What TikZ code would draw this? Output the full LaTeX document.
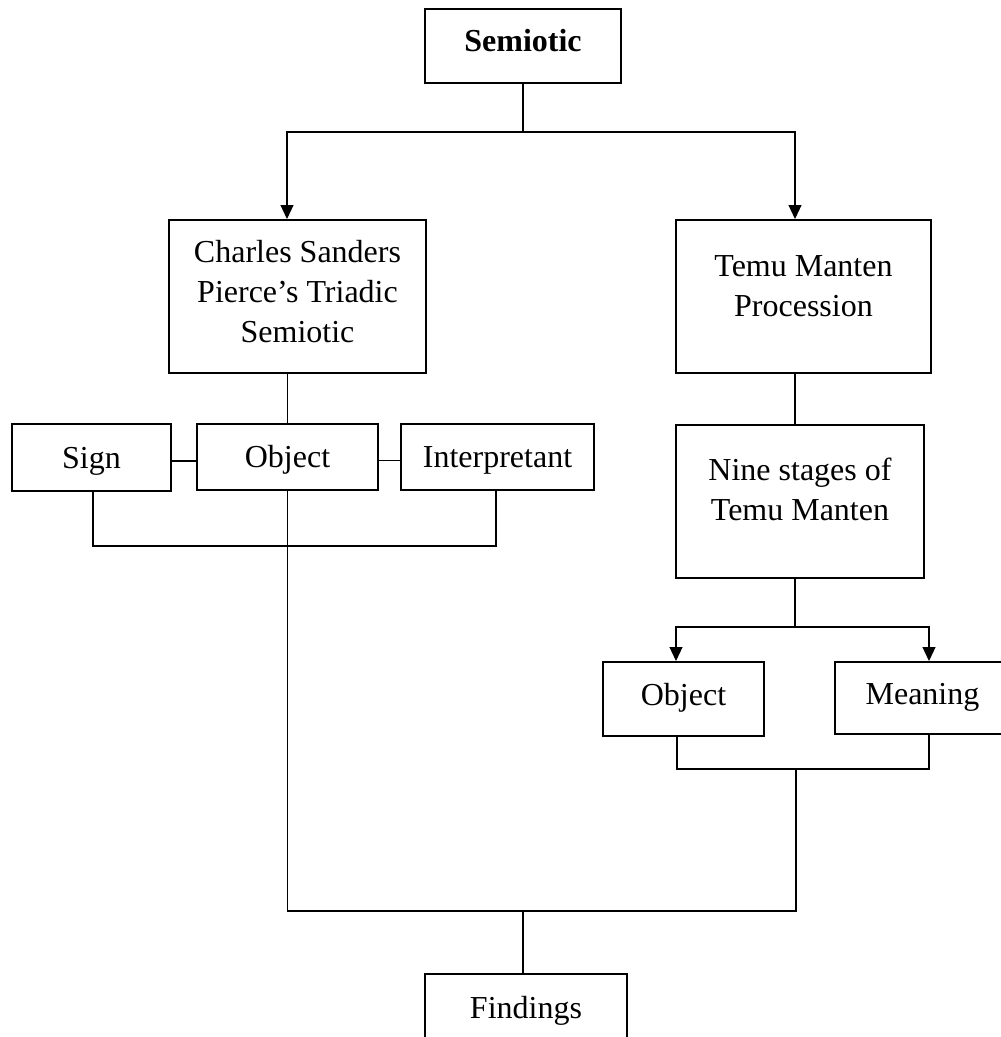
\documentclass[tikz,border=0pt]{standalone}
\usepackage{fontspec}
\setmainfont{Liberation Serif}
\usetikzlibrary{arrows.meta,calc}
\newcommand{\lowpad}[1]{\rule[-#1]{0pt}{#1}}
\newcommand{\uppad}[1]{\rule{0pt}{#1}}
\begin{document}
\begin{tikzpicture}[x=1pt,y=-1pt,
  box/.style={draw,line width=2pt,inner sep=0pt,align=center,font=\fontsize{32}{40}\selectfont},
  conn/.style={line width=1.1pt},
  arr/.style={conn,-{Triangle[width=13pt,length=14pt]}}]
\useasboundingbox (0,0) rectangle (1001,1037);
% nodes
\node[box,minimum width=196pt,minimum height=74pt] (sem) at (523,46) {\textbf{Semiotic}\lowpad{12pt}};
\node[box,minimum width=257pt,minimum height=153pt] (cs) at (297.5,296.5) {Charles Sanders\\Pierce’s Triadic\\Semiotic\lowpad{10pt}};
\node[box,minimum width=255pt,minimum height=153pt] (tm) at (803.5,296.5) {Temu Manten\\Procession\lowpad{20pt}};
\node[box,minimum width=248pt,minimum height=153pt] (ns) at (800,501.5) {Nine stages of\\Temu Manten\lowpad{24pt}};
\node[box,minimum width=159pt,minimum height=67pt] (sign) at (91.5,457.5) {\uppad{28pt}Sign};
\node[box,minimum width=181pt,minimum height=66pt] (obj) at (287.5,457) {\uppad{28pt}Object};
\node[box,minimum width=193pt,minimum height=66pt] (interp) at (497.5,457) {\uppad{28pt}Interpretant};
\node[box,minimum width=161pt,minimum height=74pt] (obj2) at (683.5,699) {Object\lowpad{10pt}};
\node[box,minimum width=175pt,minimum height=72pt] (mean) at (922.5,698) {Meaning\lowpad{9pt}};
\node[box,minimum width=202pt,minimum height=66pt] (find) at (526,1007) {\uppad{30pt}Findings};
% junctions
\coordinate (j1) at (523,132);
\coordinate (j2) at (287.5,546);
\coordinate (j3) at (795,627);
\coordinate (j5) at (796,769);
\coordinate (j4) at (523,911);
% connectors
\draw[conn] (sem.south) -- (j1);
\draw[arr] (j1) -| ([xshift=-10.5pt]cs.north);
\draw[arr] (j1) -| ([xshift=-8.5pt]tm.north);
\draw[conn] (obj.north |- cs.south) -- (obj.north);
\draw[conn] ([yshift=-3.5pt]sign.east) -- ([yshift=-3.5pt]sign.east -| obj.west);
\draw[conn] ([yshift=-3.5pt]obj.east) -- ([yshift=-3.5pt]obj.east -| interp.west);
\draw[conn] ([xshift=1.5pt]sign.south) |- (j2) -| ([xshift=-1.5pt]interp.south);
\draw[conn] ([xshift=-8.5pt]tm.south) -- ([xshift=-5pt]ns.north);
\draw[conn] ([xshift=-5pt]ns.south) -- (j3);
\draw[arr] (j3) -| ([xshift=-7.5pt]obj2.north);
\draw[arr] (j3) -| ([xshift=6.5pt]mean.north);
\draw[conn] ([xshift=-6.5pt]obj2.south) |- (j5) -| ([xshift=6.5pt]mean.south);
\draw[conn] (obj.south) |- (j5 |- j4) -- (j5);
\draw[conn] (j4) -- (j4 |- find.north);
\end{tikzpicture}
\end{document}
